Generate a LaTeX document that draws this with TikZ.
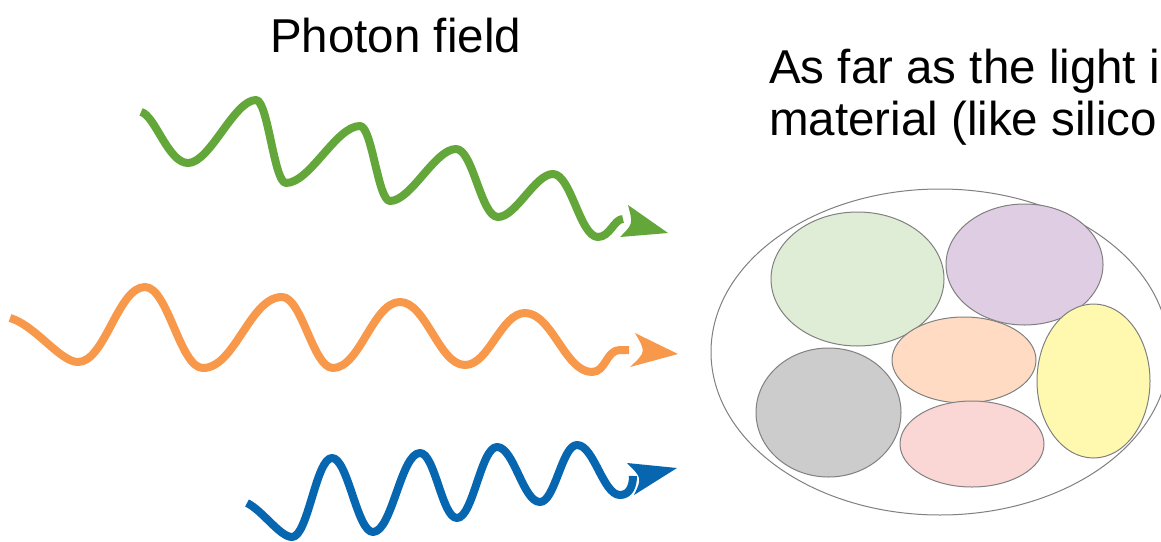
\documentclass[tikz,border=0pt]{standalone}
\usepackage{fontspec}
\setmainfont{Liberation Sans}
\definecolor{wgreen}{RGB}{99,167,59}
\definecolor{worange}{RGB}{248,152,74}
\definecolor{wblue}{RGB}{6,102,175}
\definecolor{fgreen}{RGB}{223,237,214}
\definecolor{fpurple}{RGB}{223,205,228}
\definecolor{fpeach}{RGB}{255,219,195}
\definecolor{fyellow}{RGB}{255,248,175}
\definecolor{fgray}{RGB}{204,204,204}
\definecolor{fpink}{RGB}{250,215,213}
\definecolor{outl}{RGB}{128,128,128}
\tikzset{
  wave/.style={line width=8pt, line cap=butt, line join=round},
  head/.style={draw=none},
  blob/.style={draw=outl, line width=1pt},
  label/.style={anchor=base west, inner sep=0pt, font=\fontsize{47.5}{52}\selectfont, align=left}
}
\begin{document}
\begin{tikzpicture}[x=1pt,y=-1pt]
\useasboundingbox (0,0) rectangle (1161,541);
\clip (0,0) rectangle (1161,541);
\fill[white] (0,0) rectangle (1161,541);

% texts
\node[label] (title) at (270,52) {Photon field};
\node[label] (desc1) at (769,83) {As far as the light i};
\node[label] (desc2) at (769,135) {material (like silico};

% green wave
\draw[wave, wgreen] (141,112) .. controls (155,115) and (168,163) .. (188,163)
  .. controls (210,163) and (234,100) .. (256,100)
  .. controls (268,100) and (274,183) .. (286,183)
  .. controls (310,183) and (336,126) .. (360,126)
  .. controls (372,126) and (378,201) .. (390,201)
  .. controls (411,201) and (435,149) .. (456,149)
  .. controls (473,149) and (481,217) .. (498,217)
  .. controls (516,217) and (535,174) .. (553,174)
  .. controls (571,174) and (580,237) .. (598,237)
  .. controls (610,237) and (614,219) .. (623,219);
\fill[head, wgreen] (628,205) -- (668,233) -- (620,237) .. controls (633,224) .. (628,205) -- cycle;

% orange wave
\draw[wave, worange] (10,318) .. controls (35,325) and (60,362) .. (78,362)
  .. controls (105,362) and (118,287) .. (145,287)
  .. controls (168,287) and (180,368) .. (203,368)
  .. controls (235,368) and (250,297) .. (282,297)
  .. controls (302,297) and (313,368) .. (333,368)
  .. controls (360,368) and (373,302) .. (400,302)
  .. controls (426,302) and (439,365) .. (465,365)
  .. controls (489,365) and (501,313) .. (525,313)
  .. controls (552,313) and (565,372) .. (592,372)
  .. controls (606,372) and (606,350) .. (620,350) -- (629,350);
\fill[head, worange] (635,333) -- (678,354) -- (630,367) .. controls (646,352) .. (635,333) -- cycle;

% blue wave
\draw[wave, wblue] (247,503) .. controls (262,510) and (280,537) .. (292,537)
  .. controls (308,537) and (316,458) .. (332,458)
  .. controls (348,458) and (357,532) .. (373,532)
  .. controls (392,532) and (401,453) .. (420,453)
  .. controls (435,453) and (442,518) .. (457,518)
  .. controls (473,518) and (481,447) .. (497,447)
  .. controls (514,447) and (523,502) .. (540,502)
  .. controls (555,502) and (562,445) .. (577,445)
  .. controls (594,445) and (603,495) .. (620,495)
  .. controls (630,495) and (633,485) .. (633,476);
\fill[head, wblue] (627,463) -- (677,468) -- (634,495) .. controls (642,478) .. (627,463) -- cycle;

% material ellipses
\draw[blob] (940,352) ellipse [x radius=229pt, y radius=163pt];
\draw[blob, fill=fgreen] (857.5,279) ellipse [x radius=86.5pt, y radius=67pt];
\draw[blob, fill=fpurple] (1024.5,264.5) ellipse [x radius=78.5pt, y radius=60.5pt];
\draw[blob, fill=fyellow] (1093.5,381) ellipse [x radius=56.5pt, y radius=77pt];
\draw[blob, fill=fpeach] (964,360) ellipse [x radius=72pt, y radius=43pt];
\draw[blob, fill=fgray] (828.5,412.5) ellipse [x radius=72.5pt, y radius=64.5pt];
\draw[blob, fill=fpink] (972,444) ellipse [x radius=72pt, y radius=43pt];
\end{tikzpicture}
\end{document}
